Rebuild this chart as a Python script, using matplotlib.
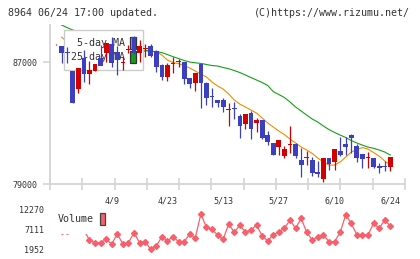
import numpy as np
import matplotlib
matplotlib.use("Agg")
from matplotlib import pyplot as plt
import matplotlib.patches as patches

# daily candles (oldest first)
opens = [88180, 88090, 87640, 86430, 85250, 87260, 86250, 86450, 87280, 87630,
         88180, 87680, 86990, 87840, 88640, 87630, 87860, 88070, 87760, 86840,
         86060, 86900, 87030, 87020, 85970, 85660, 86890, 85660, 84760, 84530,
         84530, 83900, 83970, 83460, 82970, 83670, 83040, 83210, 82210, 81710,
         81460, 80870, 81610, 81640, 80590, 80750, 80590, 79800, 79360, 80720,
         80480, 81180, 81640, 82230, 81510, 80980, 80710, 80720, 80200, 80160,
         80150]
highs = [88200, 88100, 87980, 86450, 86650, 87810, 87090, 86920, 88130, 88260,
         88680, 88070, 87370, 88130, 88730, 88460, 88200, 88200, 87780, 86860,
         86930, 87370, 87220, 87040, 85990, 86320, 86900, 85680, 85290, 84560,
         84640, 84310, 84400, 83610, 83630, 83820, 83330, 83230, 82490, 81730,
         81920, 81510, 82820, 81730, 81360, 81180, 80810, 80540, 80740, 80740,
         81330, 82120, 82080, 82300, 81640, 81000, 81140, 80740, 80410, 80520,
         80810]
lows = [88160, 86970, 86970, 84330, 84990, 85710, 85580, 86440, 86930, 87020,
        86710, 86190, 86490, 87610, 87540, 87040, 87370, 87350, 86360, 85840,
        85750, 86280, 86710, 85560, 85310, 85100, 83980, 84200, 84050, 84070,
        83760, 82840, 83260, 82050, 82600, 81990, 82450, 81970, 81570, 80920,
        80920, 80740, 81070, 80700, 79500, 80280, 79540, 79500, 79170, 79930,
        79930, 80850, 80920, 81030, 80480, 80090, 80090, 80090, 79760, 79890,
        79890]
closes = [88180, 87590, 87620, 84350, 86630, 86210, 86490, 86910, 86780, 88250,
          86970, 87150, 87010, 87860, 87630, 88070, 87880, 87430, 86670, 86060,
          86840, 86920, 87050, 85920, 85560, 86300, 85660, 84680, 84740, 84350,
          84090, 83920, 83950, 82840, 83610, 82640, 83230, 82050, 81790, 80940,
          81900, 81310, 81630, 80870, 80260, 80770, 79760, 79670, 80720, 80330,
          81310, 80920, 81460, 82050, 80740, 80680, 80730, 80150, 80090, 80140,
          80790]

ma5 = [np.nan, 88660, 88330, 87810, 87410, 87020, 86630, 86500, 86690, 87020,
       86950, 87090, 87090, 87280, 87480, 87610, 87740, 87740, 87680, 87480,
       87150, 86990, 86920, 86790, 86630, 86430, 86230, 86040, 85710, 85450,
       85250, 84920, 84530, 84260, 84070, 83870, 83670, 83350, 83020, 82760,
       82490, 82260, 81970, 81710, 81440, 81250, 81020, 80720, 80460, 80260,
       80260, 80460, 80790, 81120, 81280, 81410, 81310, 81080, 80850, 80530,
       80260]
ma25 = [np.nan, 89450, 89280, 89120, 89020, 88920, 88820, 88730, 88630, 88530,
        88430, 88330, 88230, 88130, 88000, 87870, 87790, 87740, 87700, 87640,
        87510, 87370, 87250, 87120, 87020, 86970, 86930, 86860, 86790, 86760,
        86660, 86580, 86460, 86330, 86170, 86000, 85840, 85680, 85480, 85080,
        84890, 84690, 84400, 84070, 83810, 83540, 83280, 83080, 82820, 82590,
        82400, 82230, 82070, 81870, 81710, 81570, 81440, 81360, 81250, 81120,
        80920]

volume = [6900, 6700, 6700, 7200, 7400, 6900, 4350, 3655, 3655, 4530,
          3320, 5900, 3320, 3655, 6235, 3655, 3910, 1952, 2800, 5200,
          4170, 5200, 3910, 3910, 5900, 4945, 11060, 7630, 7110, 5640,
          4530, 8480, 6340, 8220, 6340, 6930, 8220, 5380, 4170, 5640,
          6490, 7370, 9510, 7370, 9950, 6340, 4350, 5200, 5640, 3910,
          3910, 6340, 10800, 8660, 5640, 5640, 5640, 8660, 7370, 9510,
          7960]

date_labels = ['4/9', '4/23', '5/13', '5/27', '6/10', '6/24']
date_label_idx = [10, 20, 30, 40, 50, 60]
price_ticks = [79000, 87000]
volume_ticks = [1952, 7111, 12270]

UP = '#d40000'
DOWN = '#3c40c0'
VOLC = '#f7606a'
MONO = 'DejaVu Sans Mono'

W, H = 420, 259
fig = plt.figure(figsize=(W / 100, H / 100), dpi=100)
ax = fig.add_axes([50 / W, (H - 184.3) / H, 355 / W, (184.3 - 25) / H])
axv = fig.add_axes([50 / W, 6 / H, 355 / W, 48 / H])

x = np.arange(len(closes))
o = np.array(opens)
c = np.array(closes)
cols = [UP if cc >= oo else DOWN for oo, cc in zip(o, c)]

# MA lines (under the legend)
ax.plot(x, ma5, color='#f08c00', lw=0.8, zorder=2)
ax.plot(x, ma25, color='#14a014', lw=0.8, zorder=2)

# candles (on top of the legend)
ax.vlines(x, lows, highs, colors=cols, lw=0.9, zorder=4)
body = np.maximum(np.abs(c - o), 50)
ax.bar(x, body, bottom=np.minimum(o, c), width=0.85, color=cols, zorder=4)

xmin, xmax = -1.08, 62.64
ax.set_xlim(xmin, xmax)
ax.set_ylim(79000, 89450)
for s in ['top', 'right']:
    ax.spines[s].set_visible(False)
for s in ['left', 'bottom']:
    ax.spines[s].set_color('#d4d4d4')
    ax.spines[s].set_linewidth(1.3)

ax.set_yticks(price_ticks)
ax.set_yticklabels([str(v) for v in price_ticks])
ax.tick_params(axis='y', direction='out', length=5, width=1.2, color='#d4d4d4',
               labelcolor='#333333', labelsize=6, pad=4)
ax.set_xticks(date_label_idx)
ax.set_xticklabels(date_labels)
ax.set_xticks(np.linspace(xmin, xmax, 12), minor=True)
ax.tick_params(axis='x', which='major', length=0, labelsize=6, labelcolor='#333333', pad=9)
ax.tick_params(axis='x', which='minor', direction='inout', length=9, width=1.2, color='#d4d4d4')
for t in ax.get_xticklabels() + ax.get_yticklabels():
    t.set_family(MONO)

h5 = patches.Patch(facecolor='#f08c00', edgecolor='#333333', lw=0.9)
h25 = patches.Patch(facecolor='#14a014', edgecolor='#333333', lw=0.9)
leg = ax.legend([h5, h25], ['5-day MA', '25-day MA'], loc='upper left',
                bbox_to_anchor=(64 / W, 1 - 30 / H), bbox_transform=fig.transFigure,
                borderaxespad=0, markerfirst=False, prop={'family': MONO, 'size': 7.2},
                handlelength=0.6, handleheight=1.45, handletextpad=0.5, labelspacing=0.2,
                borderpad=0.7, fancybox=False, framealpha=1, edgecolor='#cccccc',
                labelcolor='#333333')
leg.get_frame().set_linewidth(1)
leg.set_zorder(3)

# volume panel
axv.plot(x, volume, color=VOLC, lw=0.9, marker='D', markersize=3, zorder=2)
axv.set_xlim(xmin, xmax)
axv.set_ylim(997, 13381)
for s in axv.spines.values():
    s.set_visible(False)
axv.set_xticks([])
axv.set_yticks(volume_ticks)
axv.set_yticklabels([str(v) for v in volume_ticks])
axv.tick_params(axis='y', length=0, labelsize=6, labelcolor='#333333', pad=4.3)
for t in axv.get_yticklabels():
    t.set_family(MONO)

hv = patches.Patch(facecolor=VOLC, edgecolor='#444444', lw=0.9)
vleg = axv.legend([hv], ['Volume'], loc='upper left',
                  bbox_to_anchor=(49 / W, 1 - 204 / H), bbox_transform=fig.transFigure,
                  borderaxespad=0, markerfirst=False, prop={'family': MONO, 'size': 7.2},
                  handlelength=0.5, handleheight=1.45, handletextpad=0.6,
                  borderpad=0.9, fancybox=False, framealpha=1, edgecolor='none',
                  labelcolor='#333333')
vleg.set_zorder(5)

fig.text(8 / W, 1 - 13 / H, '8964 06/24 17:00 updated.', ha='left', va='center',
         family=MONO, fontsize=7.2, color='#333333')
fig.text(410 / W, 1 - 13 / H, '(C)https://www.rizumu.net/', ha='right', va='center',
         family=MONO, fontsize=7.2, color='#333333')

fig.savefig('out.png', dpi=100, facecolor='white')
